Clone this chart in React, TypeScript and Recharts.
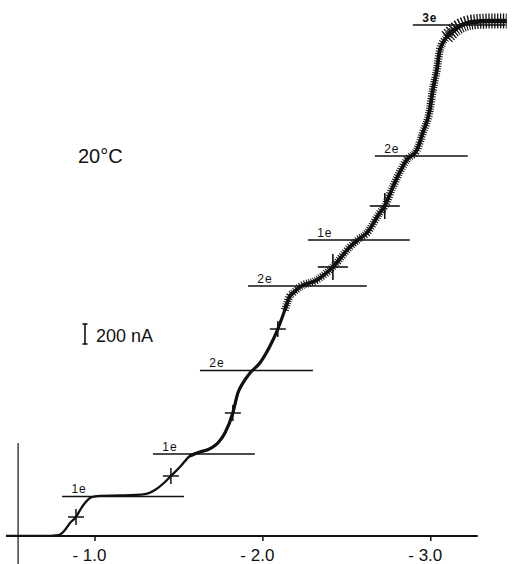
import React from 'react';
import { ComposedChart, Line, Scatter, XAxis, YAxis, ReferenceLine } from 'recharts';

// Potential (V) and current (nA) of the polarographic wave
const potentials = [
  -0.47, -0.714, -0.762, -0.792, -0.821, -0.851, -0.887, -0.911, -0.94, -0.97,
  -1.0, -1.03, -1.149, -1.298, -1.357, -1.417, -1.452, -1.506, -1.565, -1.625,
  -1.667, -1.702, -1.732, -1.774, -1.821, -1.851, -1.881, -1.923, -1.982, -2.06,
  -2.089, -2.131, -2.161, -2.179, -2.22, -2.321, -2.417, -2.518, -2.565, -2.619,
  -2.696, -2.726, -2.774, -2.857, -2.917, -2.952, -2.994, -3.012, -3.036, -3.054,
  -3.095, -3.155, -3.25, -3.351, -3.452,
];
const currents = [
  0, 0, 6, 17, 68, 148, 216, 295, 375, 432,
  449, 455, 460, 477, 523, 614, 682, 784, 909, 955,
  977, 1011, 1057, 1170, 1398, 1625, 1739, 1852, 1966, 2227,
  2352, 2568, 2727, 2761, 2830, 2909, 3057, 3284, 3364, 3443,
  3671, 3750, 3966, 4273, 4386, 4580, 4841, 5068, 5296, 5523,
  5670, 5773, 5841, 5852, 5852,
];

// Half-wave potential marks
const halfWaveE = [-0.887, -1.452, -1.821, -2.089];
const halfWaveI = [216, 682, 1398, 2352];
const halfWaveWideE = [-2.417, -2.726];
const halfWaveWideI = [3057, 3750];

// Limiting-current plateau markers
const plateauFrom = [-0.804, -1.345, -1.625, -1.911, -2.268, -2.667, -2.893];
const plateauTo = [-1.53, -1.952, -2.298, -2.619, -2.875, -3.22, -3.446];
const plateauI = [449, 932, 1881, 2841, 3364, 4318, 5807];
const plateauLabels = ['1e', '1e', '2e', '2e', '1e', '2e', '3e'];

const xTicks = [-1, -2, -3];
const xTickLabels = ['- 1.0', '- 2.0', '- 3.0'];

const axisStart = -0.47;
const axisEnd = -3.28;
const leftAxisE = -0.542;
const leftAxisTop = 1057;
const leftAxisBottom = -318;

const curve = potentials.map((V, i) => ({ V, I: currents[i] }));
const seg = (hi: number, lo: number) => curve.filter((p) => p.V <= hi && p.V >= lo);
const seg1 = seg(0, -1.9);
const seg2 = seg(-1.55, -2.2);
const seg3 = seg(-2.12, -3.16);
const seg4 = seg(-3.09, -4);
const crosses = halfWaveE.map((V, i) => ({ V, I: halfWaveI[i] }));
const crossesWide = halfWaveWideE.map((V, i) => ({ V, I: halfWaveWideI[i] }));

const INK = '#111';
const FONT = '"Liberation Sans", Arial, sans-serif';

const CrossSmall = (p: any) => {
  const { cx, cy } = p;
  return (
    <g stroke={INK} strokeWidth={1.5}>
      <line x1={cx - 8} y1={cy} x2={cx + 8} y2={cy} />
      <line x1={cx} y1={cy - 8} x2={cx} y2={cy + 8} />
    </g>
  );
};
const CrossWide = (p: any) => {
  const { cx, cy } = p;
  return (
    <g stroke={INK} strokeWidth={1.6}>
      <line x1={cx - 15} y1={cy} x2={cx + 15} y2={cy} />
      <line x1={cx} y1={cy - 13} x2={cx} y2={cy + 13} />
    </g>
  );
};

const PlateauLabel = (p: any) => {
  const vb = p.viewBox || {};
  return (
    <text
      x={(vb.x || 0) + 17}
      y={(vb.y || 0) - 3}
      textAnchor="middle"
      fontSize={12}
      fontFamily={FONT}
      letterSpacing={1}
      fill={INK}
      fontWeight={p.text === '3e' ? 700 : 400}
    >
      {p.text}
    </text>
  );
};

const Tick = (p: any) => {
  const idx = xTicks.indexOf(p.payload.value);
  return (
    <text x={p.x - 5.5} y={561} textAnchor="middle" fontSize={17} fontFamily={FONT} fill={INK}>
      {xTickLabels[idx]}
    </text>
  );
};

export default function App() {
  return (
    <div style={{ position: 'absolute', left: 0, top: 0, width: 515, height: 564, background: '#fff' }}>
      <ComposedChart width={515} height={564} margin={{ top: 8, right: 7, bottom: 0, left: 6 }}>
        <XAxis
          type="number"
          dataKey="V"
          domain={[-3.46, -0.47]}
          reversed
          allowDataOverflow
          ticks={xTicks}
          axisLine={false}
          tickLine={{ stroke: INK, strokeWidth: 1.5 }}
          tickSize={5}
          height={28}
          tick={<Tick />}
        />
        <YAxis type="number" dataKey="I" domain={[0, 6000]} hide allowDataOverflow />
        <ReferenceLine
          segment={[{ x: axisStart, y: 0 }, { x: axisEnd, y: 0 }]}
          stroke={INK}
          strokeWidth={2}
          ifOverflow="visible"
        />
        <ReferenceLine
          segment={[{ x: leftAxisE, y: leftAxisTop }, { x: leftAxisE, y: leftAxisBottom }]}
          stroke={INK}
          strokeWidth={1.2}
          ifOverflow="visible"
        />
        {plateauI.map((I, i) => (
          <ReferenceLine
            key={i}
            segment={[{ x: plateauFrom[i], y: I }, { x: plateauTo[i], y: I }]}
            stroke={INK}
            strokeWidth={1.5}
            ifOverflow="visible"
            label={<PlateauLabel text={plateauLabels[i]} />}
          />
        ))}
        <Line data={seg1} dataKey="I" type="monotone" stroke={INK} strokeWidth={2.3} dot={false} isAnimationActive={false} />
        <Line data={seg2} dataKey="I" type="monotone" stroke={INK} strokeWidth={3.2} dot={false} isAnimationActive={false} />
        <Line data={seg3} dataKey="I" type="monotone" stroke={INK} strokeWidth={3.8} dot={false} isAnimationActive={false} />
        <Line data={seg3} dataKey="I" type="monotone" stroke={INK} strokeWidth={8} strokeDasharray="1 1.4" dot={false} isAnimationActive={false} />
        <Line data={seg4} dataKey="I" type="monotone" stroke={INK} strokeWidth={4.5} dot={false} isAnimationActive={false} />
        <Line data={seg4} dataKey="I" type="monotone" stroke={INK} strokeWidth={15} strokeDasharray="1.3 1.6" dot={false} isAnimationActive={false} />
        <Scatter data={crosses} dataKey="I" shape={<CrossSmall />} isAnimationActive={false} />
        <Scatter data={crossesWide} dataKey="I" shape={<CrossWide />} isAnimationActive={false} />
      </ComposedChart>
      <svg width={515} height={564} style={{ position: 'absolute', left: 0, top: 0, pointerEvents: 'none' }}>
        <text x={78} y={163} fontSize={20} fontFamily={FONT} fill={INK}>20°C</text>
        <g stroke={INK} strokeWidth={1.6}>
          <line x1={85} y1={324} x2={85} y2={344} />
          <line x1={82.5} y1={324} x2={87.5} y2={324} />
          <line x1={82.5} y1={344} x2={87.5} y2={344} />
        </g>
        <text x={96} y={342} fontSize={18} fontFamily={FONT} fill={INK}>200 nA</text>
      </svg>
    </div>
  );
}
